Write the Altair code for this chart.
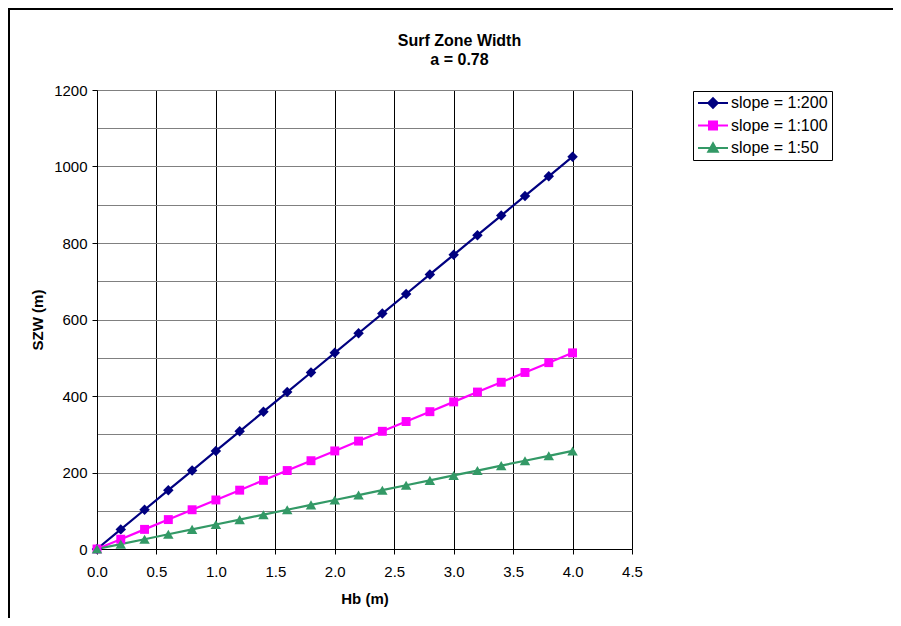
import altair as alt
import pandas as pd

# ---- data ----
hb = [0.0, 0.2, 0.4, 0.6, 0.8, 1.0, 1.2, 1.4, 1.6, 1.8, 2.0,
      2.2, 2.4, 2.6, 2.8, 3.0, 3.2, 3.4, 3.6, 3.8, 4.0]
szw_200 = [0.0, 51.3, 102.6, 153.8, 205.1, 256.4, 307.7, 359.0, 410.3, 461.5, 512.8,
           564.1, 615.4, 666.7, 717.9, 769.2, 820.5, 871.8, 923.1, 974.4, 1025.6]
szw_100 = [0.0, 25.6, 51.3, 76.9, 102.6, 128.2, 153.8, 179.5, 205.1, 230.8, 256.4,
           282.1, 307.7, 333.3, 359.0, 384.6, 410.3, 435.9, 461.5, 487.2, 512.8]
szw_50 = [0.0, 12.8, 25.6, 38.5, 51.3, 64.1, 76.9, 89.7, 102.6, 115.4, 128.2,
          141.0, 153.8, 166.7, 179.5, 192.3, 205.1, 217.9, 230.8, 243.6, 256.4]
series_names = ["slope = 1:200", "slope = 1:100", "slope = 1:50"]
series_colors = ["#000080", "#FF00FF", "#339966"]
x_ticks = [0.0, 0.5, 1.0, 1.5, 2.0, 2.5, 3.0, 3.5, 4.0, 4.5]
y_grid = [0, 100, 200, 300, 400, 500, 600, 700, 800, 900, 1000, 1100, 1200]

rows = []
for name, vals in zip(series_names, [szw_200, szw_100, szw_50]):
    for h, v in zip(hb, vals):
        rows.append({"Hb": h, "SZW": v, "series": name})
df = pd.DataFrame(rows)

FONT = "Arial"

color_scale = alt.Scale(domain=series_names, range=series_colors)

x_enc = alt.X(
    "Hb:Q",
    scale=alt.Scale(domain=[0, 4.5], nice=False, zero=True),
    axis=alt.Axis(
        values=x_ticks, format=".1f", title="Hb (m)", grid=True,
        gridColor="black", gridWidth=1, tickSize=5, labelPadding=10,
        titlePadding=12, labelFlush=False,
    ),
)
y_enc = alt.Y(
    "SZW:Q",
    scale=alt.Scale(domain=[0, 1200], nice=False),
    axis=alt.Axis(
        values=y_grid, format="d", title="SZW (m)", grid=True, gridColor="#808080",
        gridWidth=1, tickSize=5, labelPadding=5, titlePadding=8, labelFlush=False,
        labelExpr="datum.value % 200 == 0 ? datum.label : ''",
        tickColor={"condition": {"test": "datum.value % 200 != 0", "value": "transparent"},
                   "value": "black"},
    ),
)

leg = alt.Legend(
    title=None, orient="none", legendX=596, legendY=1,
    labelFont=FONT, labelFontSize=16, labelColor="black", labelOffset=18,
    symbolSize=100, symbolStrokeWidth=2, symbolOpacity=1,
    strokeColor="black", fillColor="white", padding=4, rowPadding=5.5,
    cornerRadius=0,
)

base = alt.Chart(df).encode(x=x_enc, y=y_enc)

lines = base.mark_line(strokeWidth=2.2).encode(
    color=alt.Color("series:N", scale=color_scale, legend=leg)
)

marker_shapes = ["diamond", "square", "triangle-up"]
marker_sizes = [110, 80, 110]
point_layers = []
for name, shp, sz in zip(series_names, marker_shapes, marker_sizes):
    point_layers.append(
        base.transform_filter(alt.datum.series == name)
        .mark_point(filled=True, shape=shp, size=sz, opacity=1)
        .encode(color=alt.Color("series:N", scale=color_scale, legend=leg))
    )

legend_paths = [
    "M-1.4,0H4.6M1.6,-0.95L2.55,0L1.6,0.95L0.65,0Z",
    "M-1.4,0H4.6M0.8,-0.8H2.4V0.8H0.8Z",
    "M-1.4,0H4.6M1.6,-0.95L2.55,0.75H0.65Z",
]
legend_layer = base.mark_point(
    filled=True, strokeWidth=2, opacity=0
).encode(
    fill=alt.Fill("series:N", scale=alt.Scale(domain=series_names, range=series_colors), legend=leg),
    stroke=alt.Stroke("series:N", scale=alt.Scale(domain=series_names, range=series_colors), legend=leg),
    shape=alt.Shape("series:N", scale=alt.Scale(domain=series_names, range=legend_paths), legend=leg),
)

border = alt.Chart(pd.DataFrame({"a": [0]})).mark_rect(
    fill=None, stroke="black", strokeWidth=2
).encode(
    x=alt.value(-88), x2=alt.value(900), y=alt.value(-81), y2=alt.value(700)
)

chart = alt.layer(border, lines, *point_layers, legend_layer).properties(
    width=535, height=459,
    padding={"left": 89, "top": 82, "right": 261, "bottom": 69},
    autosize=alt.AutoSizeParams(type="none"),
    title=alt.TitleParams(
        text=["Surf Zone Width", "a = 0.78"], font=FONT, fontSize=16,
        fontWeight="bold", color="black", anchor="middle", frame="group",
        dx=95, dy=82, offset=22, lineHeight=19.5,
    ),
).configure_view(stroke=None).configure_axis(
    labelFont=FONT, labelFontSize=15, labelColor="black",
    titleFont=FONT, titleFontSize=15, titleFontWeight="bold", titleColor="black",
    domainColor="black", domainWidth=1, tickColor="black",
)

chart.save("out.html", embed_options={"renderer": "svg", "actions": False})
